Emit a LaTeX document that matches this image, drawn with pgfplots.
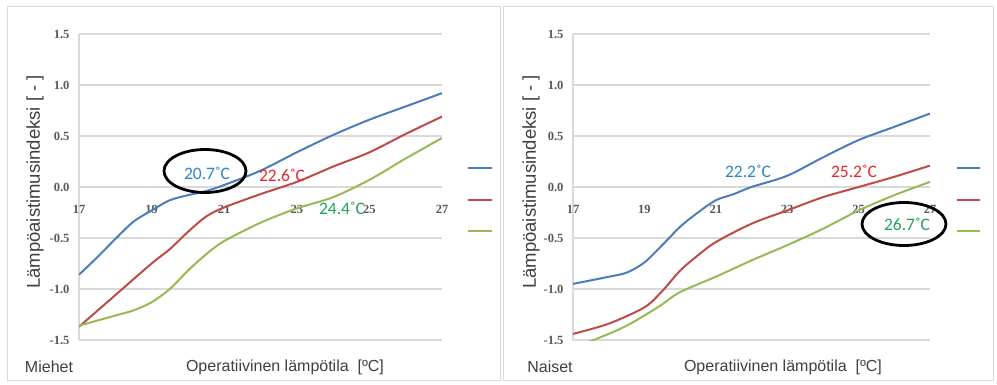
\documentclass[border=0pt]{standalone}
\usepackage{pgfplots}
\pgfplotsset{compat=1.18}
\usepackage{fontspec}
\setmainfont{Liberation Sans}
\newfontfamily\carlito{Carlito}
\newfontfamily\tickfont{Liberation Serif}
\definecolor{gridc}{HTML}{D9D9D9}
\definecolor{framec}{HTML}{D9D9D9}
\definecolor{ticc}{HTML}{595959}
\definecolor{lblc}{HTML}{404040}
\definecolor{sblue}{HTML}{4A7EBB}
\definecolor{sred}{HTML}{BE4B48}
\definecolor{sgreen}{HTML}{98B954}
\definecolor{tblue}{HTML}{2E86C1}
\definecolor{tred}{HTML}{E8262A}
\definecolor{tgreen}{HTML}{1FA35C}
\pgfplotsset{
  panel/.style={
    scale only axis, clip=true,
    xmin=17, xmax=27, ymin=-1.5, ymax=1.5,
    axis x line=middle, axis y line=left,
    x axis line style={draw=none, -},
    y axis line style={draw=gridc, line width=1.5pt, -},
    hide obscured x ticks=false,
    hide obscured y ticks=false,
    xtick={17,19,21,23,25,27},
    ytick={-1.5,-1,-0.5,0,0.5,1,1.5},
    yticklabels={{-1.5},{-1.0},{-0.5},{0.0},{0.5},{1.0},{1.5}},
    major tick length=0pt,
    tick style={draw=none},
    ymajorgrids, grid style={gridc, line width=1.5pt},
    /pgf/number format/assume math mode=true,
    ticklabel style={font=\tickfont\bfseries\fontsize{12.5}{12.5}\selectfont, text=ticc},
    xticklabel style={yshift=-15pt},
    yticklabel style={xshift=-6pt},
    every axis plot/.append style={line width=2pt, smooth, tension=0.5, no marks},
  }
}
\begin{document}
\begin{tikzpicture}
\path[use as bounding box] (0pt,0pt) rectangle (997pt,384pt);
\fill[white] (0pt,0pt) rectangle (997pt,384pt);
\draw[framec, line width=1pt] (7pt,4pt) rectangle (500pt,377pt);
\draw[framec, line width=1pt] (503pt,4pt) rectangle (993pt,377pt);

% ---------------- Left: Miehet ----------------
\begin{axis}[panel, at={(79pt,44pt)}, anchor=south west, width=363pt, height=306pt]
\addplot[sblue] coordinates {(17,-0.86) (17.5,-0.69) (18,-0.51) (18.5,-0.34) (19,-0.23) (19.5,-0.13) (20,-0.08) (20.5,-0.04) (21,0.02) (22,0.16) (23,0.34) (24,0.51) (25,0.66) (26,0.79) (27,0.92)};
\addplot[sred] coordinates {(17,-1.37) (18,-1.06) (19,-0.75) (19.5,-0.61) (20,-0.44) (20.5,-0.29) (21,-0.20) (22,-0.07) (23,0.05) (24,0.20) (25,0.34) (26,0.52) (27,0.69)};
\addplot[sgreen] coordinates {(17,-1.36) (18,-1.26) (18.5,-1.21) (19,-1.13) (19.5,-1.00) (20,-0.82) (20.5,-0.66) (21,-0.53) (22,-0.35) (23,-0.21) (24,-0.10) (25,0.07) (26,0.28) (27,0.48)};
\end{axis}
\begin{scope}[line width=2.5pt]
\draw[sblue] (468pt,216pt) -- (492pt,216pt);
\draw[sred] (468pt,184pt) -- (492pt,184pt);
\draw[sgreen] (468pt,153pt) -- (492pt,153pt);
\end{scope}
\draw[black, line width=2.8pt] (205pt,213pt) ellipse [x radius=41pt, y radius=21.5pt];
\node[text=tblue, font=\carlito\fontsize{17.5}{17.5}\selectfont] at (207pt,211pt) {20.7˚C};
\node[text=tred, font=\carlito\fontsize{17.5}{17.5}\selectfont] at (282pt,209pt) {22.6˚C};
\node[text=tgreen, font=\carlito\fontsize{17.5}{17.5}\selectfont] at (342pt,176pt) {24.4˚C};
\node[text=lblc, font=\fontsize{16}{16}\selectfont] at (49pt,17pt) {Miehet};
\node[text=lblc, font=\fontsize{16}{16}\selectfont] at (285pt,17pt) {Operatiivinen lämpötila\ \ [ºC]};
\node[text=lblc, rotate=90, font=\fontsize{18.5}{18.5}\selectfont] at (35pt,202pt) {Lämpöaistimusindeksi\ [ - ]};

% ---------------- Right: Naiset ----------------
\begin{axis}[panel, at={(573pt,44pt)}, anchor=south west, width=357pt, height=306pt]
\addplot[sblue] coordinates {(17,-0.95) (18,-0.88) (18.5,-0.84) (19,-0.74) (19.5,-0.57) (20,-0.39) (20.5,-0.25) (21,-0.13) (21.5,-0.07) (22,0.0) (23,0.11) (24,0.29) (25,0.46) (26,0.59) (27,0.72)};
\addplot[sred] coordinates {(17,-1.44) (18,-1.34) (19,-1.18) (19.5,-1.02) (20,-0.82) (20.5,-0.67) (21,-0.54) (22,-0.36) (23,-0.23) (24,-0.10) (25,0.0) (26,0.10) (27,0.21)};
\addplot[sgreen] coordinates {(17,-1.58) (18,-1.44) (18.5,-1.36) (19,-1.26) (19.5,-1.15) (20,-1.03) (21,-0.88) (22,-0.72) (23,-0.57) (24,-0.41) (25,-0.23) (26,-0.08) (27,0.05)};
\end{axis}
\begin{scope}[line width=2.5pt]
\draw[sblue] (957pt,216pt) -- (980pt,216pt);
\draw[sred] (957pt,184pt) -- (980pt,184pt);
\draw[sgreen] (957pt,153pt) -- (980pt,153pt);
\end{scope}
\node[text=tblue, font=\carlito\fontsize{17.5}{17.5}\selectfont] at (748pt,213pt) {22.2˚C};
\node[text=tred, font=\carlito\fontsize{17.5}{17.5}\selectfont] at (854pt,213pt) {25.2˚C};
\draw[black, line width=2.8pt] (904pt,160pt) ellipse [x radius=42pt, y radius=21.5pt];
\node[text=tgreen, font=\carlito\fontsize{17.5}{17.5}\selectfont] at (907pt,160pt) {26.7˚C};
\node[text=lblc, font=\fontsize{16}{16}\selectfont] at (550pt,17pt) {Naiset};
\node[text=lblc, font=\fontsize{16}{16}\selectfont] at (783pt,17pt) {Operatiivinen lämpötila\ \ [ºC]};
\node[text=lblc, rotate=90, font=\fontsize{18.5}{18.5}\selectfont] at (531pt,202pt) {Lämpöaistimusindeksi\ [ - ]};
\end{tikzpicture}
\end{document}
